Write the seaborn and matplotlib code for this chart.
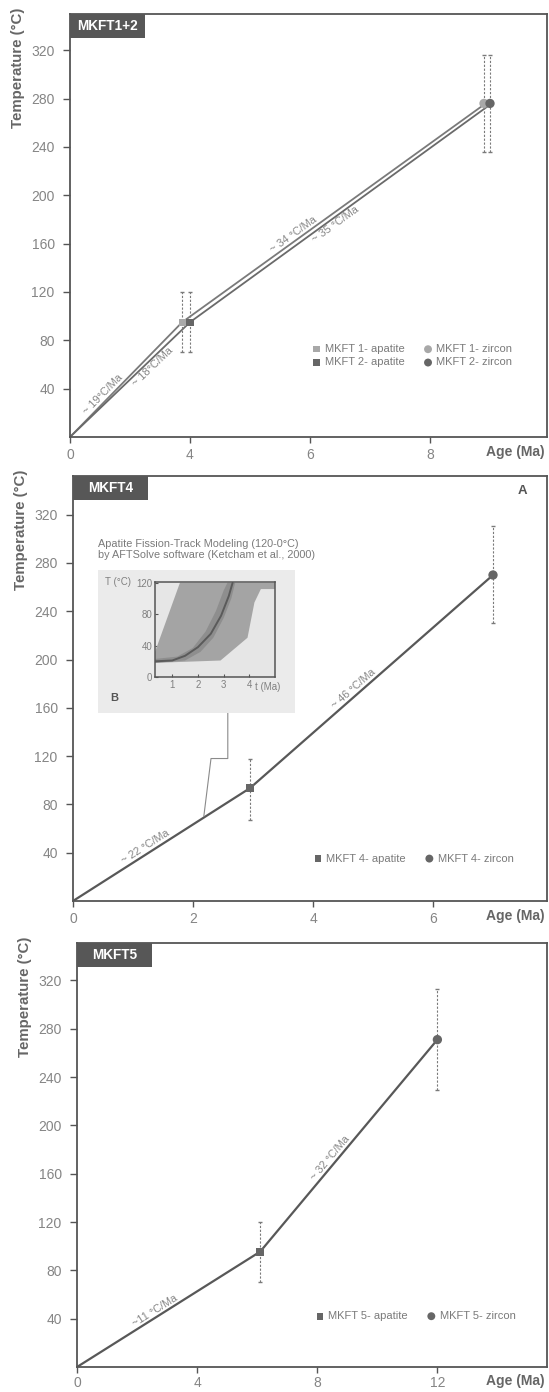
import matplotlib
matplotlib.use('Agg')
import matplotlib.pyplot as plt
import seaborn as sns
import numpy as np
import pandas as pd
from matplotlib.patches import Rectangle

sns.set_theme(style='white')
plt.rcParams['font.family'] = ['Liberation Sans', 'DejaVu Sans']

# ---------------- data ----------------
# Panel 1 (MKFT1+2)
p1_title = 'MKFT1+2'
p1_xticks = [2, 4, 6, 8]
p1_xticklabels = ['0', '4', '6', '8']
p1_path1_age = [2.0, 3.87, 8.9]
p1_path1_temp = [0, 95, 275]
p1_path2_age = [2.0, 4.0, 9.0]
p1_path2_temp = [0, 95, 275]
p1_apatite_age = [3.87, 4.0]
p1_apatite_temp = [95, 95]
p1_apatite_lo = [70, 70]
p1_apatite_hi = [120, 120]
p1_zircon_age = [8.9, 9.0]
p1_zircon_temp = [276, 276]
p1_zircon_lo = [236, 236]
p1_zircon_hi = [316, 316]
p1_samples = ['MKFT 1', 'MKFT 2']
p1_rates = ['~ 19°C/Ma', '~ 18°C/Ma', '~ 34 °C/Ma', '~ 35 °C/Ma']
p1_rate_age = [2.62, 3.3, 5.78, 6.37]

# Panel 2 (MKFT4)
p2_title = 'MKFT4'
p2_xticks = [0, 2, 4, 6]
p2_xticklabels = ['0', '2', '4', '6']
p2_path_age = [0.0, 2.95, 7.0]
p2_path_temp = [0, 93.5, 270]
p2_apatite_age = [2.95]
p2_apatite_temp = [93.5]
p2_apatite_lo = [67]
p2_apatite_hi = [118]
p2_zircon_age = [7.0]
p2_zircon_temp = [270]
p2_zircon_lo = [230]
p2_zircon_hi = [311]
p2_samples = ['MKFT 4']
p2_rates = ['~ 22 °C/Ma', '~ 46 °C/Ma']
p2_rate_age = [1.27, 4.75]

# Inset (AFTSolve model)
inset_title = 'Apatite Fission-Track Modeling (120-0°C)\nby AFTSolve software (Ketcham et al., 2000)'
inset_outer_t = [0.33, 0.33, 1.3, 5.0, 5.0, 4.45, 4.2, 3.93, 2.88, 0.33]
inset_outer_T = [18, 32, 120, 120, 112, 112, 95, 50, 21, 18]
inset_inner_t = [0.33, 1.2, 1.8, 2.3, 2.7, 3.0, 3.15, 3.45, 3.3, 3.0, 2.6, 2.1, 1.5, 0.33]
inset_inner_T = [23, 26, 37, 58, 84, 110, 120, 120, 100, 75, 50, 32, 21, 18]
inset_fit_t = [0.33, 1.0, 1.5, 2.0, 2.5, 2.9, 3.2, 3.35]
inset_fit_T = [20, 21, 27, 38, 55, 78, 103, 120]
inset_xticks = [1, 2, 3, 4]
inset_yticks = [0, 40, 80, 120]
connector_age = [2.58, 2.58, 2.3, 2.18]
connector_temp = [156, 118, 118, 70]

# Panel 3 (MKFT5)
p3_title = 'MKFT5'
p3_xticks = [0, 4, 8, 12]
p3_xticklabels = ['0', '4', '8', '12']
p3_path_age = [0.0, 6.1, 12.0]
p3_path_temp = [0, 95.5, 271]
p3_apatite_age = [6.1]
p3_apatite_temp = [95.5]
p3_apatite_lo = [70]
p3_apatite_hi = [120]
p3_zircon_age = [12.0]
p3_zircon_temp = [271]
p3_zircon_lo = [229]
p3_zircon_hi = [313]
p3_samples = ['MKFT 5']
p3_rates = ['~11 °C/Ma', '~ 32 °C/Ma']
p3_rate_age = [2.7, 8.6]

yticks = [40, 80, 120, 160, 200, 240, 280, 320]

# ---------------- style ----------------
FRAME = '#555555'
TICKC = '#858585'
LABELC = '#666666'
DARK = '#666666'
LIGHT = '#a8a8a8'

W, H = 549, 1392
fig = plt.figure(figsize=(W / 100, H / 100), dpi=100)
fig.patch.set_facecolor('white')


def px_axes(left, right, top, bottom):
    return fig.add_axes([left / W, 1 - bottom / H, (right - left) / W, (bottom - top) / H])


def style_axes(ax, xlim, ylim, xticks, xticklabels, title, xpad=4):
    ax.set_xlim(*xlim)
    ax.set_ylim(*ylim)
    ax.set_facecolor('white')
    for s in ax.spines.values():
        s.set_visible(True)
        s.set_color(FRAME)
        s.set_linewidth(1.3)
    ax.set_yticks(yticks)
    ax.set_yticklabels([str(v) for v in yticks])
    ax.set_xticks(xticks)
    ax.set_xticklabels(xticklabels)
    ax.tick_params(axis='y', direction='out', length=5, width=1.0, color=FRAME,
                   labelsize=10, labelcolor=TICKC, pad=6, left=True)
    ax.tick_params(axis='x', direction='out', length=4, width=1.0, color=FRAME,
                   labelsize=10, labelcolor=TICKC, pad=xpad, bottom=True)
    ax.set_xlabel('')
    ax.set_ylabel('')
    ax.grid(False)
    # title box
    ext = ax.get_window_extent()
    bw = 75 / ext.width
    bh = 24 / ext.height
    ax.add_patch(Rectangle((0, 1 - bh), bw, bh, transform=ax.transAxes,
                           facecolor='#575757', edgecolor='none', zorder=10, clip_on=False))
    ax.text(bw / 2, 1 - bh / 2, title, transform=ax.transAxes, ha='center', va='center',
            color='white', fontsize=9.8, fontweight='bold', zorder=11)
    ax.text(0.994, -(xpad + 11) / ext.height, 'Age (Ma)', transform=ax.transAxes,
            ha='right', va='center', fontsize=10, fontweight='bold', color=LABELC)
    ax.text(-52 / ext.width, 1 - 54 / ext.height, 'Temperature (°C)', transform=ax.transAxes,
            rotation=90, ha='center', va='center', fontsize=10.8, fontweight='bold',
            color=LABELC)


def errbars(ax, x, y, lo, hi, color='#7a7a7a'):
    yerr = [np.array(y) - np.array(lo), np.array(hi) - np.array(y)]
    eb = ax.errorbar(x, y, yerr=yerr, fmt='none', ecolor=color, elinewidth=0.8,
                     capsize=1.5, capthick=1.0, zorder=3)
    for lc in eb[2]:
        lc.set_linestyle((0, (2.0, 1.5)))


def rate_label(ax, lab, a, path_age, path_temp, side=1, off=4.5):
    tr = ax.transData
    seg = 0
    for i in range(len(path_age) - 1):
        if path_age[i] <= a <= path_age[i + 1]:
            seg = i
    a0, a1 = path_age[seg], path_age[seg + 1]
    t = path_temp[seg] + (path_temp[seg + 1] - path_temp[seg]) * (a - a0) / (a1 - a0)
    p0 = tr.transform((a0, path_temp[seg]))
    p1 = tr.transform((a1, path_temp[seg + 1]))
    ang = np.arctan2(p1[1] - p0[1], p1[0] - p0[0])
    dx, dy = -np.sin(ang) * off * side, np.cos(ang) * off * side
    ax.annotate(lab, xy=(a, t), xytext=(dx, dy), textcoords='offset points',
                rotation=np.degrees(ang), rotation_mode='anchor', ha='center', va='center',
                fontsize=7.8, color='#858585', zorder=4)


def markers(ax, age, temp, marker, color, size, label):
    sns.scatterplot(x=age, y=temp, marker=marker, color=color, s=size, linewidth=0,
                    edgecolor='none', ax=ax, zorder=6, label=label, legend=False)


def line(ax, age, temp, color, lw):
    sns.lineplot(x=age, y=temp, sort=False, estimator=None, color=color, lw=lw, ax=ax,
                 zorder=2, legend=False)


def legend(ax, anchor, ncol=2):
    h, l = ax.get_legend_handles_labels()
    ax.legend(h, l, loc='center left', bbox_to_anchor=anchor, ncol=ncol, frameon=False,
              fontsize=8, labelcolor='#7a7a7a', handlelength=0.6, handletextpad=0.45,
              columnspacing=1.8, labelspacing=0.3, borderpad=0, borderaxespad=0,
              markerscale=0.85)


# ---------------- panel 1 ----------------
ax1 = px_axes(70, 547, 14, 437)
style_axes(ax1, (2, 9.95), (0, 350), p1_xticks, p1_xticklabels, p1_title)
line(ax1, p1_path1_age, p1_path1_temp, '#7a7a7a', 1.3)
line(ax1, p1_path2_age, p1_path2_temp, '#6a6a6a', 1.3)
errbars(ax1, p1_apatite_age, p1_apatite_temp, p1_apatite_lo, p1_apatite_hi)
errbars(ax1, p1_zircon_age, p1_zircon_temp, p1_zircon_lo, p1_zircon_hi)
cols = [LIGHT, DARK]
for i, s in enumerate(p1_samples):
    markers(ax1, [p1_apatite_age[i]], [p1_apatite_temp[i]], 's', cols[i], 28, f'{s}- apatite')
for i, s in enumerate(p1_samples):
    markers(ax1, [p1_zircon_age[i]], [p1_zircon_temp[i]], 'o', cols[i], 45, f'{s}- zircon')
legend(ax1, (0.51, 0.192))
rate_label(ax1, p1_rates[0], p1_rate_age[0], p1_path1_age, p1_path1_temp, side=1)
rate_label(ax1, p1_rates[1], p1_rate_age[1], p1_path2_age, p1_path2_temp, side=-1)
rate_label(ax1, p1_rates[2], p1_rate_age[2], p1_path1_age, p1_path1_temp, side=1)
rate_label(ax1, p1_rates[3], p1_rate_age[3], p1_path2_age, p1_path2_temp, side=-1)

# ---------------- panel 2 ----------------
ax2 = px_axes(73, 547, 476, 901)
style_axes(ax2, (0, 7.9), (0, 352), p2_xticks, p2_xticklabels, p2_title)
line(ax2, p2_path_age, p2_path_temp, '#585858', 1.6)
line(ax2, connector_age, connector_temp, '#8a8a8a', 0.8)
errbars(ax2, p2_apatite_age, p2_apatite_temp, p2_apatite_lo, p2_apatite_hi)
errbars(ax2, p2_zircon_age, p2_zircon_temp, p2_zircon_lo, p2_zircon_hi)
markers(ax2, p2_apatite_age, p2_apatite_temp, 's', DARK, 32, f'{p2_samples[0]}- apatite')
markers(ax2, p2_zircon_age, p2_zircon_temp, 'o', DARK, 45, f'{p2_samples[0]}- zircon')
legend(ax2, (0.51, 0.1))
for lab, a in zip(p2_rates, p2_rate_age):
    rate_label(ax2, lab, a, p2_path_age, p2_path_temp, side=1)
ax2.text(0.949, 0.965, 'A', transform=ax2.transAxes, ha='center', va='center',
         fontsize=9.5, fontweight='bold', color='#555555')

# inset background + text
bg = fig.add_axes([98 / W, 1 - 713 / H, 197 / W, 143 / H])
bg.set_facecolor('#ebebeb')
for s in bg.spines.values():
    s.set_visible(False)
bg.set_xticks([])
bg.set_yticks([])
bg.text(0.06, 0.07, 'B', transform=bg.transAxes, fontsize=8, fontweight='bold',
        color='#555555', ha='left', va='bottom')
fig.text(98 / W, 1 - 539 / H, inset_title, ha='left', va='top', fontsize=7.8,
         color='#7a7a7a', linespacing=1.15)

axi = fig.add_axes([155 / W, 1 - 677 / H, 120 / W, 95 / H])
axi.set_facecolor('#e6e6e6')
axi.fill(inset_outer_t, inset_outer_T, color='#a4a4a4', lw=0)
axi.fill(inset_inner_t, inset_inner_T, color='#8e8e8e', lw=0)
sns.lineplot(x=inset_fit_t, y=inset_fit_T, sort=False, estimator=None, color='#5a5a5a',
             lw=1.4, ax=axi, legend=False)
axi.set_xlim(0.33, 5.0)
axi.set_ylim(0, 121)
axi.set_xticks(inset_xticks)
axi.set_yticks(inset_yticks)
axi.set_xticklabels([str(v) for v in inset_xticks])
axi.set_yticklabels([str(v) for v in inset_yticks])
axi.tick_params(direction='in', length=2, width=0.8, color='#555555', labelsize=7,
                labelcolor='#808080', pad=2, left=True, bottom=True)
for s in axi.spines.values():
    s.set_visible(True)
    s.set_color('#555555')
    s.set_linewidth(1.1)
axi.set_xlabel('')
axi.set_ylabel('')
axi.grid(False)
axi.text(-0.2, 1.0, 'T (°C)', transform=axi.transAxes, ha='right', va='center',
         fontsize=7, color='#808080')
axi.text(0.83, -0.1, 't (Ma)', transform=axi.transAxes, ha='left', va='center',
         fontsize=7, color='#808080')

# ---------------- panel 3 ----------------
ax3 = px_axes(77, 547, 943, 1367)
style_axes(ax3, (0, 15.65), (0, 351), p3_xticks, p3_xticklabels, p3_title, xpad=2.5)
line(ax3, p3_path_age, p3_path_temp, '#585858', 1.6)
errbars(ax3, p3_apatite_age, p3_apatite_temp, p3_apatite_lo, p3_apatite_hi)
errbars(ax3, p3_zircon_age, p3_zircon_temp, p3_zircon_lo, p3_zircon_hi)
markers(ax3, p3_apatite_age, p3_apatite_temp, 's', DARK, 32, f'{p3_samples[0]}- apatite')
markers(ax3, p3_zircon_age, p3_zircon_temp, 'o', DARK, 45, f'{p3_samples[0]}- zircon')
legend(ax3, (0.51, 0.12))
for lab, a in zip(p3_rates, p3_rate_age):
    rate_label(ax3, lab, a, p3_path_age, p3_path_temp, side=1)

fig.savefig('out.png', dpi=100, facecolor='white')
